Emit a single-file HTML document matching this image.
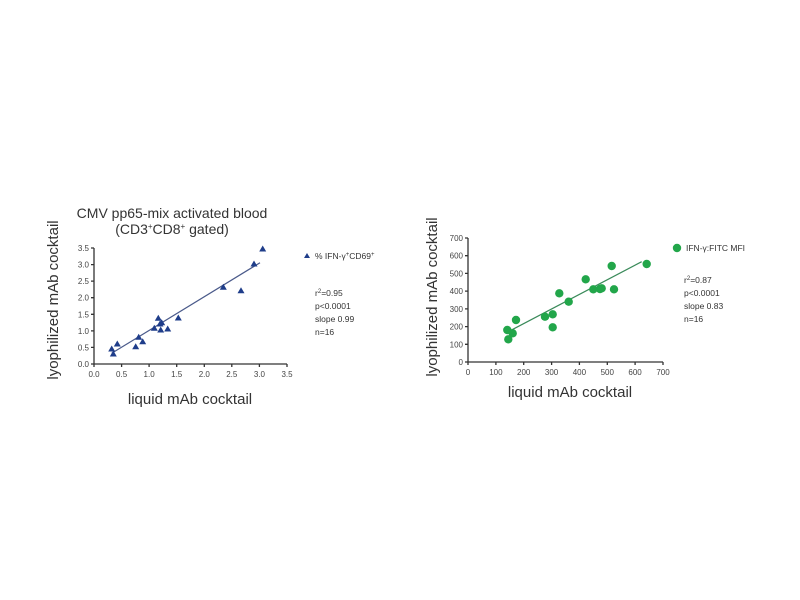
<!DOCTYPE html>
<html><head><meta charset="utf-8"><style>
body{margin:0;background:#fff}
svg{display:block;font-family:"Liberation Sans",sans-serif}
</style></head><body>
<svg width="800" height="600" viewBox="0 0 800 600">
<!-- LEFT CHART -->
<g fill="#333">
<text x="172" y="218" font-size="14" text-anchor="middle">CMV pp65-mix activated blood</text>
<text x="172" y="234" font-size="14" text-anchor="middle">(CD3<tspan font-size="8" dy="-5">+</tspan><tspan dy="5">CD8</tspan><tspan font-size="8" dy="-5">+</tspan><tspan dy="5"> gated)</tspan></text>
<text x="190" y="404" font-size="15" text-anchor="middle">liquid mAb cocktail</text>
<text transform="translate(58,300) rotate(-90)" font-size="15" text-anchor="middle">lyophilized mAb cocktail</text>
</g>
<g stroke="#333" stroke-width="1.3" fill="none">
<path d="M94 248V364H287"/>
<path d="M94 364v3M121.6 364v3M149.1 364v3M176.7 364v3M204.3 364v3M231.8 364v3M259.4 364v3M287 364v3"/>
<path d="M91 364h3M91 347.4h3M91 330.9h3M91 314.3h3M91 297.7h3M91 281.1h3M91 264.6h3M91 248h3"/>
</g>
<g font-size="8" fill="#444" text-anchor="end">
<text x="89" y="367">0.0</text><text x="89" y="350.4">0.5</text><text x="89" y="333.9">1.0</text><text x="89" y="317.3">1.5</text><text x="89" y="300.7">2.0</text><text x="89" y="284.1">2.5</text><text x="89" y="267.6">3.0</text><text x="89" y="251">3.5</text>
</g>
<g font-size="8" fill="#444" text-anchor="middle">
<text x="94" y="377">0.0</text><text x="121.6" y="377">0.5</text><text x="149.1" y="377">1.0</text><text x="176.7" y="377">1.5</text><text x="204.3" y="377">2.0</text><text x="231.8" y="377">2.5</text><text x="259.4" y="377">3.0</text><text x="287" y="377">3.5</text>
</g>
<line x1="111.7" y1="353.3" x2="260" y2="262.7" stroke="#4a5a8a" stroke-width="1.2"/>
<g fill="#1f3d8a">
<path id="t" d="M0 -3.5L3.5 2.5H-3.5Z" transform="translate(111.7,349)"/>
<path d="M0 -3.5L3.5 2.5H-3.5Z" transform="translate(113.3,354)"/>
<path d="M0 -3.5L3.5 2.5H-3.5Z" transform="translate(117.3,344)"/>
<path d="M0 -3.5L3.5 2.5H-3.5Z" transform="translate(135.7,346.7)"/>
<path d="M0 -3.5L3.5 2.5H-3.5Z" transform="translate(138.7,337.3)"/>
<path d="M0 -3.5L3.5 2.5H-3.5Z" transform="translate(142.7,341.7)"/>
<path d="M0 -3.5L3.5 2.5H-3.5Z" transform="translate(154.3,328.3)"/>
<path d="M0 -3.5L3.5 2.5H-3.5Z" transform="translate(158.3,318.3)"/>
<path d="M0 -3.5L3.5 2.5H-3.5Z" transform="translate(160,324)"/>
<path d="M0 -3.5L3.5 2.5H-3.5Z" transform="translate(160.7,330)"/>
<path d="M0 -3.5L3.5 2.5H-3.5Z" transform="translate(161.7,322.7)"/>
<path d="M0 -3.5L3.5 2.5H-3.5Z" transform="translate(167.7,329)"/>
<path d="M0 -3.5L3.5 2.5H-3.5Z" transform="translate(178.3,318)"/>
<path d="M0 -3.5L3.5 2.5H-3.5Z" transform="translate(223.3,287.3)"/>
<path d="M0 -3.5L3.5 2.5H-3.5Z" transform="translate(241,290.7)"/>
<path d="M0 -3.5L3.5 2.5H-3.5Z" transform="translate(254,264)"/>
<path d="M0 -3.5L3.5 2.5H-3.5Z" transform="translate(262.7,249)"/>
<path d="M0 -3L3 2H-3Z" transform="translate(307,256)"/>
</g>
<g font-size="8.5" fill="#333">
<text x="315" y="259">% IFN-γ<tspan font-size="6" dy="-3">+</tspan><tspan dy="3">CD69</tspan><tspan font-size="6" dy="-3">+</tspan></text>
<text x="315" y="296">r<tspan font-size="6" dy="-3">2</tspan><tspan dy="3">=0.95</tspan></text>
<text x="315" y="309">p&lt;0.0001</text>
<text x="315" y="322">slope 0.99</text>
<text x="315" y="335">n=16</text>
</g>

<!-- RIGHT CHART -->
<g fill="#333">
<text x="570" y="397" font-size="15" text-anchor="middle">liquid mAb cocktail</text>
<text transform="translate(437,297) rotate(-90)" font-size="15" text-anchor="middle">lyophilized mAb cocktail</text>
</g>
<g stroke="#333" stroke-width="1.3" fill="none">
<path d="M468 238V362H663"/>
<path d="M468 362v3M495.9 362v3M523.7 362v3M551.6 362v3M579.4 362v3M607.3 362v3M635.1 362v3M663 362v3"/>
<path d="M465 362h3M465 344.3h3M465 326.6h3M465 308.9h3M465 291.1h3M465 273.4h3M465 255.7h3M465 238h3"/>
</g>
<g font-size="8" fill="#444" text-anchor="end">
<text x="463" y="365">0</text><text x="463" y="347.3">100</text><text x="463" y="329.6">200</text><text x="463" y="311.9">300</text><text x="463" y="294.1">400</text><text x="463" y="276.4">500</text><text x="463" y="258.7">600</text><text x="463" y="241">700</text>
</g>
<g font-size="8" fill="#444" text-anchor="middle">
<text x="468" y="375">0</text><text x="495.9" y="375">100</text><text x="523.7" y="375">200</text><text x="551.6" y="375">300</text><text x="579.4" y="375">400</text><text x="607.3" y="375">500</text><text x="635.1" y="375">600</text><text x="663" y="375">700</text>
</g>
<line x1="508.3" y1="331.7" x2="641.7" y2="261.7" stroke="#3a8a5a" stroke-width="1.2"/>
<g fill="#22a64a">
<circle cx="507.3" cy="330" r="4.2"/><circle cx="508.3" cy="339.3" r="4.2"/><circle cx="512.7" cy="333.3" r="4.2"/><circle cx="516" cy="320" r="4.2"/>
<circle cx="545" cy="316.7" r="4.2"/><circle cx="552.7" cy="314.3" r="4.2"/><circle cx="552.7" cy="327.3" r="4.2"/><circle cx="559.3" cy="293.3" r="4.2"/>
<circle cx="568.7" cy="301.7" r="4.2"/><circle cx="585.7" cy="279.3" r="4.2"/><circle cx="593.3" cy="289.3" r="4.2"/><circle cx="600" cy="289" r="4.2"/>
<circle cx="601.7" cy="288.3" r="4.2"/><circle cx="611.7" cy="266" r="4.2"/><circle cx="614" cy="289.3" r="4.2"/><circle cx="646.7" cy="264" r="4.2"/>
<circle cx="677" cy="248" r="4.2"/>
</g>
<g font-size="8.5" fill="#333">
<text x="686" y="251">IFN-γ:FITC MFI</text>
<text x="684" y="283">r<tspan font-size="6" dy="-3">2</tspan><tspan dy="3">=0.87</tspan></text>
<text x="684" y="296">p&lt;0.0001</text>
<text x="684" y="309">slope 0.83</text>
<text x="684" y="322">n=16</text>
</g>
</svg>
</body></html>
